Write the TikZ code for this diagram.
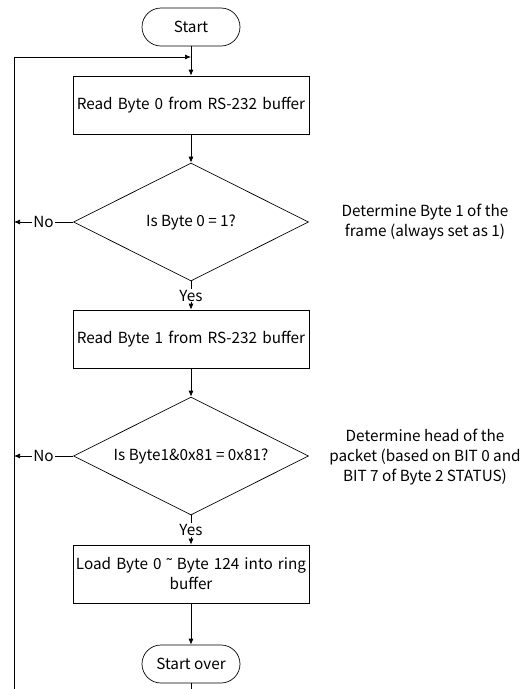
\documentclass[tikz,border=0pt]{standalone}
\usepackage{fontspec}
\setmainfont{Noto Sans CJK JP}
\newfontfamily\tlfont{Liberation Sans}
\usetikzlibrary{shapes.geometric,arrows.meta}
\begin{document}
\begin{tikzpicture}[x=1pt,y=-1pt,
  font=\fontsize{15.3}{20}\selectfont,
  every node/.style={inner sep=1pt},
  term/.style={draw,rounded corners=19pt,minimum width=98pt,minimum height=38pt,line width=0.7pt},
  proc/.style={draw,minimum width=236pt,minimum height=58pt,align=center,text width=232pt,line width=0.7pt},
  dec/.style={draw,diamond,aspect=1.97,minimum width=235pt,minimum height=118pt,inner sep=0pt,line width=0.7pt},
  note/.style={align=center},
  lbl/.style={fill=white,inner sep=1pt},
  arr/.style={-{Latex[length=6pt,width=5pt]},line width=0.7pt},
  ln/.style={line width=0.7pt}]
\useasboundingbox (0,0) rectangle (524,689);
\node[term] (start) at (191,27) {Start};
\node[proc] (r0) at (191,105) {Read Byte 0 from RS-232 buffer};
\node[dec] (d1) at (191,222) {Is Byte 0 = 1?};
\node[proc] (r1) at (191,339) {Read Byte 1 from RS-232 buffer};
\node[dec] (d2) at (191,456) {Is Byte1\&0x81 = 0x81?};
\node[proc] (ld) at (191,574) {Load Byte 0 {\tlfont\char"02DC} Byte 124 into ring\\buffer};
\node[term] (over) at (191,664) {Start over};
\node[note] (n1) at (425,222) {Determine Byte 1 of the\\frame (always set as 1)};
\node[note] (n2) at (425,457) {Determine head of the\\packet (based on BIT 0 and\\BIT 7 of Byte 2 STATUS)};
\coordinate (lb) at (14,689);
\coordinate (lt) at (14,57);
\coordinate (mt) at (191,57);
\coordinate (l1) at (14,222);
\coordinate (l2) at (14,456);
\coordinate (ob) at (191,689);
\draw[arr] (start) -- (r0);
\draw[ln] (lb) -- (lt);
\draw[arr] (lt) -- (mt);
\draw[arr] (r0) -- (d1);
\draw[arr] (d1.west) -- node[lbl]{No} (l1);
\draw[arr] (d1.south) -- node[lbl,pos=0.5]{Yes} (r1.north);
\draw[arr] (r1) -- (d2);
\draw[arr] (d2.west) -- node[lbl]{No} (l2);
\draw[arr] (d2.south) -- node[lbl,pos=0.5]{Yes} (ld.north);
\draw[arr] (ld) -- (over);
\draw[ln] (over) -- (ob);
\end{tikzpicture}
\end{document}
